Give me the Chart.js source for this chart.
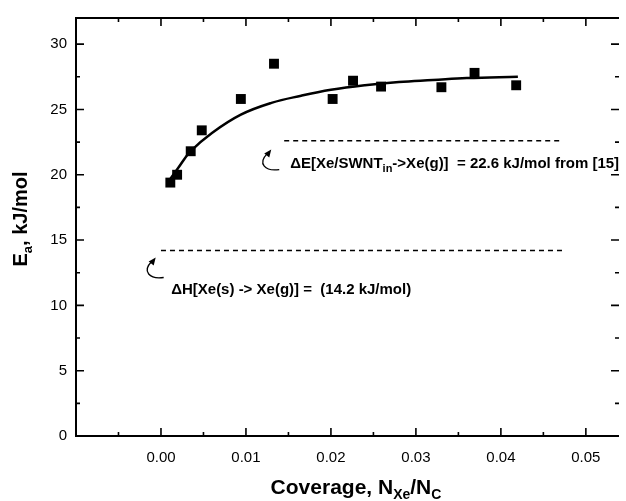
<!DOCTYPE html>
<html>
<head>
<meta charset="utf-8">
<script src="https://cdn.jsdelivr.net/npm/chart.js@4/dist/chart.umd.min.js"></script>
<style>
  html, body { margin: 0; padding: 0; background: #fff; overflow: hidden; }
  #wrap { width: 626px; height: 501px; }
</style>
</head>
<body>
<div id="wrap"><canvas id="chart" width="626" height="501"></canvas></div>
<script>
// measured points (coverage vs activation energy)
const coverage = [0.0011, 0.0019, 0.0035, 0.0048, 0.0094, 0.0133, 0.0202, 0.0226, 0.0259, 0.0330, 0.0369, 0.0418];
const ea = [19.4, 20.0, 21.8, 23.4, 25.8, 28.5, 25.8, 27.2, 26.75, 26.7, 27.8, 26.85];

// fitted curve
const fitX = [0.0008, 0.0020, 0.0035, 0.0060, 0.0094, 0.0130, 0.0165, 0.0200, 0.0240, 0.0280, 0.0320, 0.0360, 0.0420];
const fitY = [19.4, 20.5, 21.8, 23.2, 24.6, 25.5, 26.05, 26.5, 26.85, 27.1, 27.25, 27.4, 27.5];

// reference levels (dashed)
const dEx = [0.0145, 0.0472];
const dEy = [22.6, 22.6];
const dHx = [0.0000, 0.0472];
const dHy = [14.2, 14.2];

// ticks
const xMajor = [0.00, 0.01, 0.02, 0.03, 0.04, 0.05];
const xMinor = [-0.005, 0.005, 0.015, 0.025, 0.035, 0.045];
const yMajor = [0, 5, 10, 15, 20, 25, 30];
const yMinor = [2.5, 7.5, 12.5, 17.5, 22.5, 27.5];

const FONT = '"Liberation Sans", Arial, Helvetica, sans-serif';

function xy(xs, ys) { return xs.map((v, i) => ({x: v, y: ys[i]})); }

// text with subscripts, centred on x
function drawParts(ctx, parts, x, y) {
  let w = 0;
  parts.forEach(p => { ctx.font = 'bold ' + p.size + 'px ' + FONT; p.w = ctx.measureText(p.t).width; w += p.w; });
  let cx = x - w / 2;
  parts.forEach(p => {
    ctx.font = 'bold ' + p.size + 'px ' + FONT;
    ctx.fillText(p.t, cx, y + (p.dy || 0));
    cx += p.w;
  });
}

function curl(ctx, x0, y0) {
  // little hooked arrow pointing up-right
  ctx.beginPath();
  ctx.moveTo(x0 + 18, y0 + 10);
  ctx.bezierCurveTo(x0 + 4, y0 + 12, x0 - 4, y0 + 4, x0 + 6, y0 - 6);
  ctx.stroke();
  ctx.beginPath();
  ctx.moveTo(x0 + 10, y0 - 10);
  ctx.lineTo(x0 + 3, y0 - 6);
  ctx.lineTo(x0 + 8, y0 - 2);
  ctx.closePath();
  ctx.fill();
}

const frame = {
  id: 'frame',
  afterDraw(chart) {
    const {ctx, chartArea: a, scales: {x, y}} = chart;
    ctx.save();
    ctx.strokeStyle = '#000';
    ctx.fillStyle = '#000';
    ctx.lineWidth = 2;
    ctx.beginPath();
    ctx.moveTo(a.right, a.top);
    ctx.lineTo(a.left, a.top);
    ctx.lineTo(a.left, a.bottom);
    ctx.lineTo(a.right, a.bottom);
    ctx.stroke();
    ctx.lineWidth = 1.6;
    ctx.beginPath();
    const tx = (v, len) => { const p = x.getPixelForValue(v); ctx.moveTo(p, a.bottom); ctx.lineTo(p, a.bottom - len); ctx.moveTo(p, a.top); ctx.lineTo(p, a.top + len); };
    const ty = (v, len) => { const p = y.getPixelForValue(v); ctx.moveTo(a.left, p); ctx.lineTo(a.left + len, p); ctx.moveTo(a.right, p); ctx.lineTo(a.right - len, p); };
    xMajor.forEach(v => tx(v, 8));
    xMinor.forEach(v => tx(v, 4));
    yMajor.forEach(v => ty(v, 8));
    yMinor.forEach(v => ty(v, 4));
    ctx.stroke();

    // axis titles
    ctx.textBaseline = 'alphabetic';
    drawParts(ctx, [
      {t: 'Coverage, N', size: 21},
      {t: 'Xe', size: 14, dy: 5},
      {t: '/N', size: 21},
      {t: 'C', size: 14, dy: 5}
    ], 356, 494);
    ctx.save();
    ctx.translate(27, 219);
    ctx.rotate(-Math.PI / 2);
    drawParts(ctx, [
      {t: 'E', size: 20},
      {t: 'a', size: 13, dy: 5},
      {t: ', kJ/mol', size: 20}
    ], 0, 0);
    ctx.restore();

    // annotations
    ctx.lineWidth = 1.3;
    let px = x.getPixelForValue(0.0152), py = y.getPixelForValue(20.48);
    const seg = (t, size, dy) => { ctx.font = 'bold ' + size + 'px ' + FONT; ctx.fillText(t, px, py + dy); px += ctx.measureText(t).width; };
    seg('\u0394E[Xe/SWNT', 15, 0);
    seg('in', 11, 4);
    seg('->Xe(g)]  = 22.6 kJ/mol from [15]', 15, 0);
    curl(ctx, x.getPixelForValue(0.0118), y.getPixelForValue(21.16));

    px = x.getPixelForValue(0.0012); py = y.getPixelForValue(10.9);
    seg('\u0394H[Xe(s) -> Xe(g)] =  (14.2 kJ/mol)', 15, 0);
    curl(ctx, x.getPixelForValue(-0.0018), y.getPixelForValue(12.9));
    ctx.restore();
  }
};

const config = {
  type: 'scatter',
  data: {
    datasets: [
      {
        label: 'data',
        data: xy(coverage, ea),
        pointStyle: 'rect',
        pointRadius: 7,
        pointHoverRadius: 7,
        backgroundColor: '#000',
        borderColor: '#000',
        borderWidth: 0,
        order: 1
      },
      {
        label: 'fit',
        type: 'line',
        data: xy(fitX, fitY),
        borderColor: '#000',
        borderWidth: 2.5,
        pointRadius: 0,
        tension: 0.4,
        fill: false,
        order: 2
      },
      {
        label: 'dE',
        type: 'line',
        data: xy(dEx, dEy),
        borderColor: '#000',
        borderWidth: 1.4,
        borderDash: [5, 4],
        pointRadius: 0,
        fill: false
      },
      {
        label: 'dH',
        type: 'line',
        data: xy(dHx, dHy),
        borderColor: '#000',
        borderWidth: 1.4,
        borderDash: [5, 4],
        pointRadius: 0,
        fill: false
      }
    ]
  },
  options: {
    responsive: false,
    animation: false,
    events: [],
    layout: { padding: { top: 12, right: 0, left: 0, bottom: 0 } },
    plugins: { legend: { display: false }, tooltip: { enabled: false } },
    scales: {
      x: {
        type: 'linear',
        min: -0.01,
        max: 0.0539,
        grid: { display: false, drawTicks: false },
        border: { display: false },
        afterBuildTicks: s => { s.ticks = xMajor.map(v => ({value: v})); },
        afterFit: s => { s.height = 65; },
        ticks: {
          padding: 13,
          maxRotation: 0,
          color: '#000',
          font: { family: FONT, size: 15 },
          callback: v => v.toFixed(2)
        }
      },
      y: {
        min: 0,
        max: 32,
        grid: { display: false, drawTicks: false },
        border: { display: false },
        afterBuildTicks: s => { s.ticks = yMajor.map(v => ({value: v})); },
        afterFit: s => { s.width = 76; },
        ticks: {
          padding: 9,
          color: '#000',
          font: { family: FONT, size: 15 }
        }
      }
    }
  },
  plugins: [frame]
};

new Chart(document.getElementById('chart').getContext('2d'), config);
</script>
</body>
</html>
